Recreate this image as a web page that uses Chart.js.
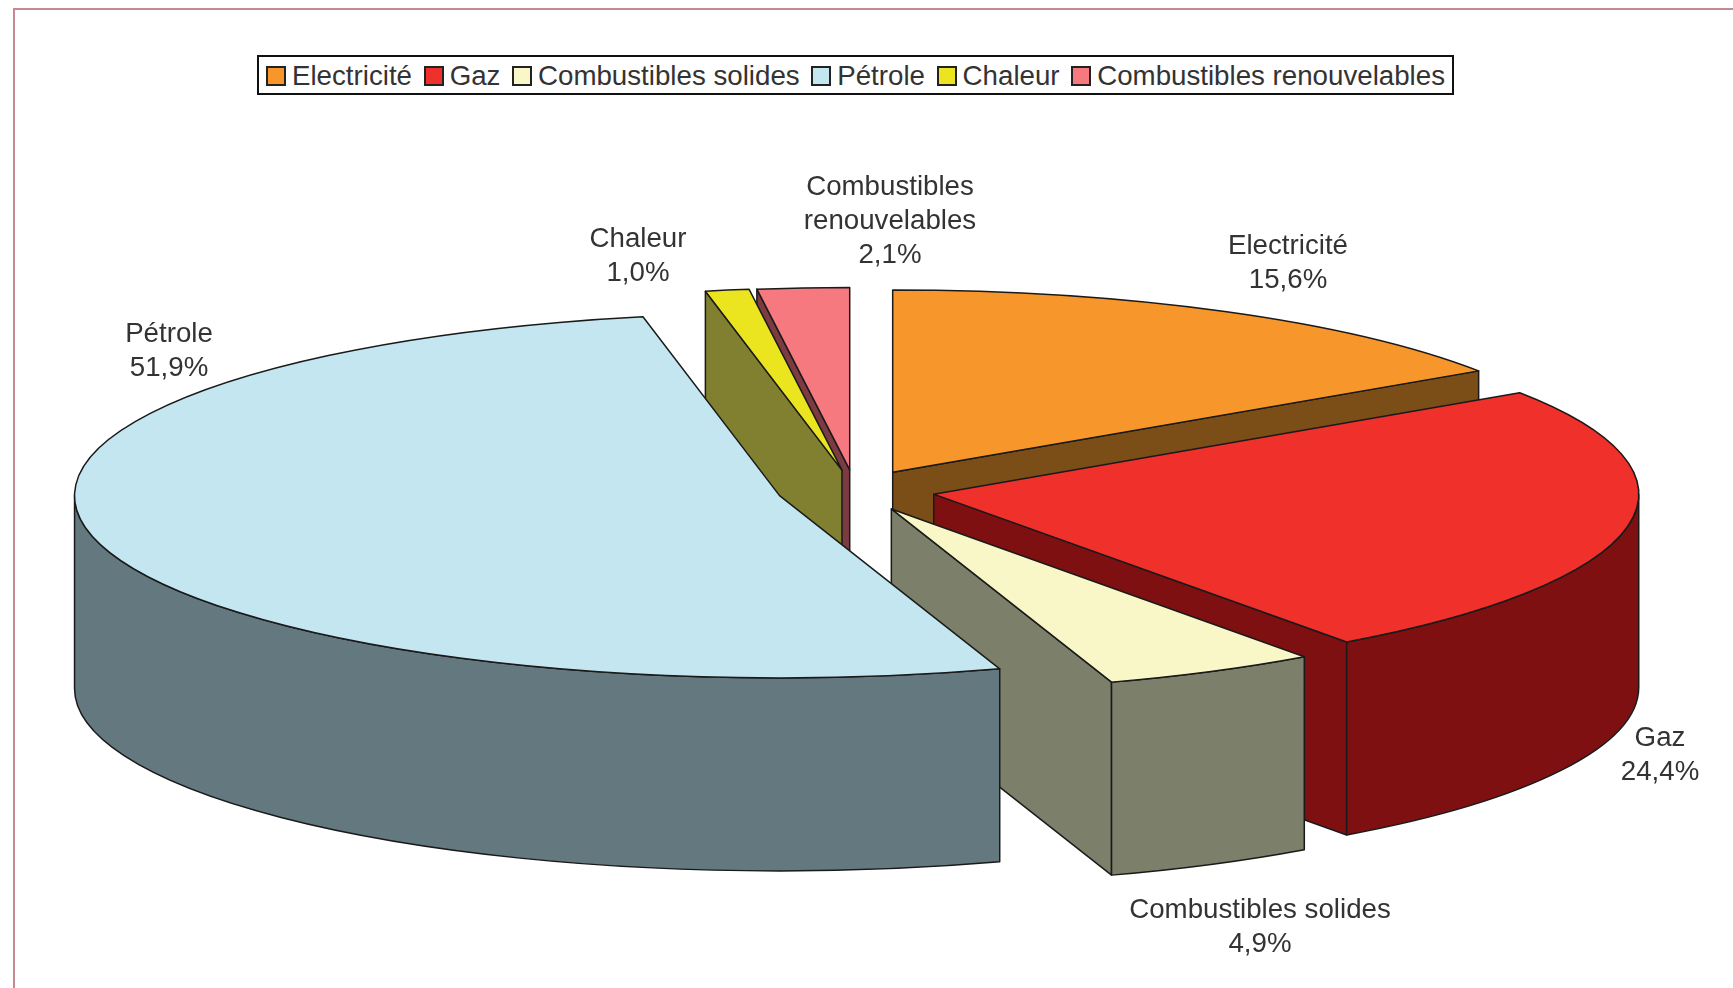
<!DOCTYPE html>
<html>
<head>
<meta charset="utf-8">
<title>Electricité, gaz, pétrole</title>
<script src="https://cdn.jsdelivr.net/npm/chart.js@4/dist/chart.umd.min.js"></script>
<style>
	body { margin: 0; background: #fff; font-family: "Liberation Sans", Arial, sans-serif; }
	#page { position: relative; width: 1733px; height: 988px; overflow: hidden; }
	#frame { position: absolute; left: 13px; top: 8px; width: 1740px; height: 1000px; border: 2px solid #c58a90; box-sizing: border-box; }
	#pie { position: absolute; left: 0; top: 0; }
	#legend { position: absolute; left: 257px; top: 55px; width: 1197px; height: 40px; box-sizing: border-box; border: 2px solid #111;
		display: flex; align-items: center; justify-content: space-between; padding: 2px 7px 0 7px; font-size: 27.7px; color: #333; white-space: nowrap; background: #fff; }
	#legend span.item { display: flex; align-items: center; }
	#legend i { display: block; width: 20px; height: 20px; box-sizing: border-box; border: 2px solid #222; margin-right: 6px; }
</style>
</head>
<body>
<div id="page">
	<div id="frame"></div>
	<canvas id="pie" width="1733" height="988"></canvas>
	<div id="legend"></div>
</div>
<script>
const categories = ['Electricité', 'Gaz', 'Combustibles solides', 'Pétrole', 'Chaleur', 'Combustibles renouvelables'];
const values = [15.6, 24.4, 4.9, 51.9, 1.0, 2.1];
const labelLines = [['Electricité'], ['Gaz'], ['Combustibles solides'], ['Pétrole'], ['Chaleur'], ['Combustibles', 'renouvelables']];
const topColors = ['#f7962b', '#f0302b', '#f9f7c8', '#c3e6f0', '#ebe51f', '#f5797f'];
const sideColors = ['#7a4e16', '#7e1012', '#7c7f6a', '#64797f', '#808030', '#7b3b40'];

// 3D view settings
const tilt = 0.2586;
const depth = 193;
const explode = [80, 80, 80, 78, 80, 80];
const paintOrder = [0, 1, 2, 5, 4, 3];
// centre of the first text line of each label
const labelAt = [[1288, 246], [1660, 738], [1260, 910], [169, 334], [638, 239], [890, 187]];
const lineGap = 34;

// legend html
const legendBox = document.getElementById('legend');
categories.forEach((name, i) => {
	legendBox.innerHTML += `<span class="item"><i style="background:${topColors[i]}"></i>${name}</span>`;
});

// chart.js has no 3d pie: the arcs keep the library geometry, this plugin squashes and extrudes them
const pie3d = {
	id: 'pie3d',
	beforeDatasetDraw(chart, args) {
		const ctx = chart.ctx;
		const arcs = args.meta.data;
		paintOrder.forEach(i => {
			const arc = arcs[i];
			const half = (arc.startAngle + arc.endAngle) / 2;
			const x = arc.x + Math.cos(half) * explode[i];
			const y = arc.y + Math.sin(half) * explode[i] * tilt;
			const r = arc.outerRadius;
			const ry = r * tilt;
			ctx.save();
			ctx.lineWidth = 1.5;
			ctx.strokeStyle = '#1a1a1a';
			ctx.lineJoin = 'round';
			ctx.fillStyle = sideColors[i];

			// cut faces, only those turned to the viewer
			const cutFaces = [];
			if (Math.cos(arc.startAngle) < 0) cutFaces.push(arc.startAngle);
			if (Math.cos(arc.endAngle) > 0) cutFaces.push(arc.endAngle);
			cutFaces.forEach(a => {
				const ex = x + Math.cos(a) * r;
				const ey = y + Math.sin(a) * ry;
				ctx.beginPath();
				ctx.moveTo(x, y);
				ctx.lineTo(ex, ey);
				ctx.lineTo(ex, ey + depth);
				ctx.lineTo(x, y + depth);
				ctx.closePath();
				ctx.fill();
				ctx.stroke();
			});

			// rim, same thing
			const from = Math.max(arc.startAngle, 0);
			const to = Math.min(arc.endAngle, Math.PI);
			if (to > from) {
				ctx.beginPath();
				ctx.ellipse(x, y, r, ry, 0, from, to);
				ctx.ellipse(x, y + depth, r, ry, 0, to, from, true);
				ctx.closePath();
				ctx.fill();
				ctx.stroke();
			}

			// top face drawn by the arc element itself
			ctx.save();
			ctx.translate(x, y);
			ctx.scale(1, tilt);
			ctx.translate(-arc.x, -arc.y);
			arc.draw(ctx);
			ctx.restore();
			ctx.beginPath();
			ctx.moveTo(x, y);
			ctx.ellipse(x, y, r, ry, 0, arc.startAngle, arc.endAngle);
			ctx.closePath();
			ctx.stroke();
			ctx.restore();
		});
		return false;
	},
	afterDraw(chart) {
		const ctx = chart.ctx;
		ctx.save();
		ctx.font = '27.7px "Liberation Sans", Arial, sans-serif';
		ctx.fillStyle = '#333';
		ctx.textAlign = 'center';
		ctx.textBaseline = 'middle';
		categories.forEach((name, i) => {
			const lines = labelLines[i].concat(values[i].toFixed(1).replace('.', ',') + '%');
			lines.forEach((line, n) => {
				ctx.fillText(line, labelAt[i][0], labelAt[i][1] + n * lineGap);
			});
		});
		ctx.restore();
	}
};

new Chart(document.getElementById('pie'), {
	type: 'pie',
	data: {
		labels: categories,
		datasets: [{
			data: values,
			backgroundColor: topColors,
			borderWidth: 0
		}]
	},
	options: {
		responsive: false,
		animation: false,
		events: [],
		radius: 705,
		layout: { padding: { left: 0, right: 23, top: 0, bottom: 7 } },
		plugins: {
			legend: { display: false },
			tooltip: { enabled: false }
		}
	},
	plugins: [pie3d]
});
</script>
</body>
</html>
